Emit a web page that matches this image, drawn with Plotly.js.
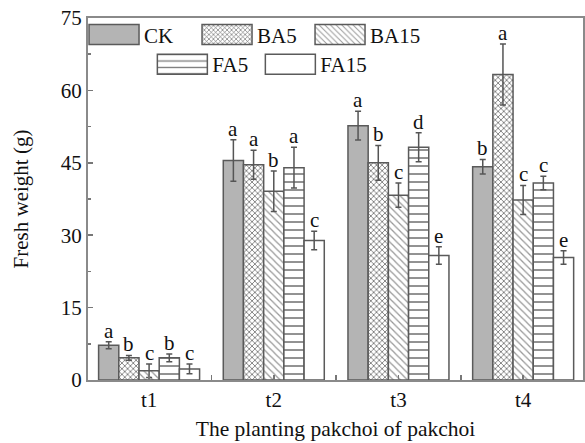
<!DOCTYPE html>
<html><head><meta charset="utf-8">
<script src="https://cdn.plot.ly/plotly-3.0.1.min.js"></script>
<style>html,body{margin:0;padding:0;background:#fff;} #chart{width:585px;height:443px;}</style>
</head><body><div id="chart"></div>
<script>
// ---- data ----
const categories = ['t1', 't2', 't3', 't4'];
const seriesNames = ['CK', 'BA5', 'BA15', 'FA5', 'FA15'];

const CK       = [7.2, 45.5, 52.7, 44.2];
const CK_err   = [0.7, 4.3, 3.0, 1.5];
const CK_sig   = ['a', 'a', 'a', 'b'];

const BA5      = [4.6, 44.6, 45.0, 63.3];
const BA5_err  = [0.5, 3.0, 3.6, 6.3];
const BA5_sig  = ['b', 'a', 'b', 'a'];

const BA15     = [1.9, 39.1, 38.3, 37.3];
const BA15_err = [1.4, 4.2, 2.5, 3.0];
const BA15_sig = ['c', 'b', 'c', 'c'];

const FA5      = [4.6, 44.0, 48.2, 40.8];
const FA5_err  = [0.8, 4.2, 3.0, 1.4];
const FA5_sig  = ['b', 'a', 'd', 'c'];

const FA15     = [2.3, 28.9, 25.8, 25.4];
const FA15_err = [1.0, 1.9, 1.8, 1.4];
const FA15_sig = ['c', 'c', 'e', 'e'];

const values = [CK, BA5, BA15, FA5, FA15];
const errors = [CK_err, BA5_err, BA15_err, FA5_err, FA15_err];
const sigs   = [CK_sig, BA5_sig, BA15_sig, FA5_sig, FA15_sig];

// ---- styles ----
const FONT = 'Liberation Serif, Times New Roman, serif';
const EDGE = '#5a5a5a';
const styles = [
  {color: '#b4b4b4', pattern: {shape: ''}},
  {color: '#ffffff', pattern: {shape: 'x', fgcolor: '#666', bgcolor: '#fff', size: 4, solidity: 0.35}},
  {color: '#ffffff', pattern: {shape: '\\', fgcolor: '#999', bgcolor: '#fff', size: 5, solidity: 0.25}},
  {color: '#ffffff', pattern: {shape: '-', fgcolor: '#777', bgcolor: '#fff', size: 8, solidity: 0.2}},
  {color: '#ffffff', pattern: {shape: ''}}
];
const legendOf = ['legend', 'legend', 'legend', 'legend2', 'legend2'];
const bargap = 0.19;
const nSeries = seriesNames.length;
const bw = (1 - bargap) / nSeries;
const xIdx = categories.map((_, i) => i);

const traces = seriesNames.map((name, j) => ({
  type: 'bar',
  name: name,
  x: xIdx,
  y: values[j],
  legend: legendOf[j],
  marker: {color: styles[j].color, pattern: styles[j].pattern, line: {color: EDGE, width: 1.5}},
  error_y: {type: 'data', array: errors[j], visible: true, color: '#555', thickness: 1.5, width: 3}
}));

const annotations = [];
seriesNames.forEach((name, j) => {
  categories.forEach((c, i) => {
    annotations.push({
      x: i + (j - (nSeries - 1) / 2) * bw,
      y: values[j][i] + errors[j][i],
      xref: 'x', yref: 'y',
      text: sigs[j][i],
      showarrow: false,
      yanchor: 'bottom',
      yshift: -3,
      font: {family: FONT, size: 21, color: '#111'}
    });
  });
});

const legendFont = {family: FONT, size: 21, color: '#111'};
const layout = {
  width: 585, height: 443,
  margin: {l: 88, r: 2, t: 18, b: 63},
  paper_bgcolor: '#fff', plot_bgcolor: '#fff',
  barmode: 'group', bargap: bargap, bargroupgap: 0,
  font: {family: FONT, size: 21, color: '#111'},
  showlegend: true,
  legend: {orientation: 'h', x: -0.008, y: 1.01, xanchor: 'left', yanchor: 'top',
           bgcolor: 'rgba(0,0,0,0)', font: legendFont,
           itemwidth: 50, entrywidth: 48, traceorder: 'normal'},
  legend2: {orientation: 'h', x: 0.13, y: 0.928, xanchor: 'left', yanchor: 'top',
           bgcolor: 'rgba(0,0,0,0)', font: legendFont,
           itemwidth: 50, entrywidth: 43, traceorder: 'normal'},
  xaxis: {
    range: [-0.49, 3.48],
    tickmode: 'array', tickvals: xIdx, ticktext: categories,
    ticks: 'inside', ticklen: 5, tickcolor: '#777', tickwidth: 1.5,
    minor: {dtick: 0.5, tick0: 0, ticks: 'inside', ticklen: 5, tickcolor: '#777', tickwidth: 1.5},
    showline: true, linecolor: '#8a8a8a', linewidth: 2, mirror: true,
    showgrid: false, zeroline: false,
    tickfont: {family: FONT, size: 21},
    title: {text: 'The planting pakchoi of pakchoi', font: {family: FONT, size: 21.5}, standoff: 10}
  },
  yaxis: {
    range: [0, 75], dtick: 15, tick0: 0,
    ticks: 'inside', ticklen: 5, tickcolor: '#777', tickwidth: 1.5,
    minor: {dtick: 7.5, ticks: 'inside', ticklen: 3, tickcolor: '#777', tickwidth: 1.5},
    showline: true, linecolor: '#8a8a8a', linewidth: 2, mirror: true,
    showgrid: false, zeroline: false,
    tickfont: {family: FONT, size: 21},
    title: {text: 'Fresh weight (g)', font: {family: FONT, size: 21}, standoff: 26}
  },
  annotations: annotations
};

const gd = document.getElementById('chart');
function enlargeSwatches() {
  gd.querySelectorAll('g.legendpoints path').forEach(p => {
    p.setAttribute('d', 'M25,10H-25V-10H25Z');
  });
}
Plotly.newPlot(gd, traces, layout, {displayModeBar: false, staticPlot: true}).then(() => {
  enlargeSwatches();
  gd.on('plotly_afterplot', enlargeSwatches);
});
</script>
</body></html>
